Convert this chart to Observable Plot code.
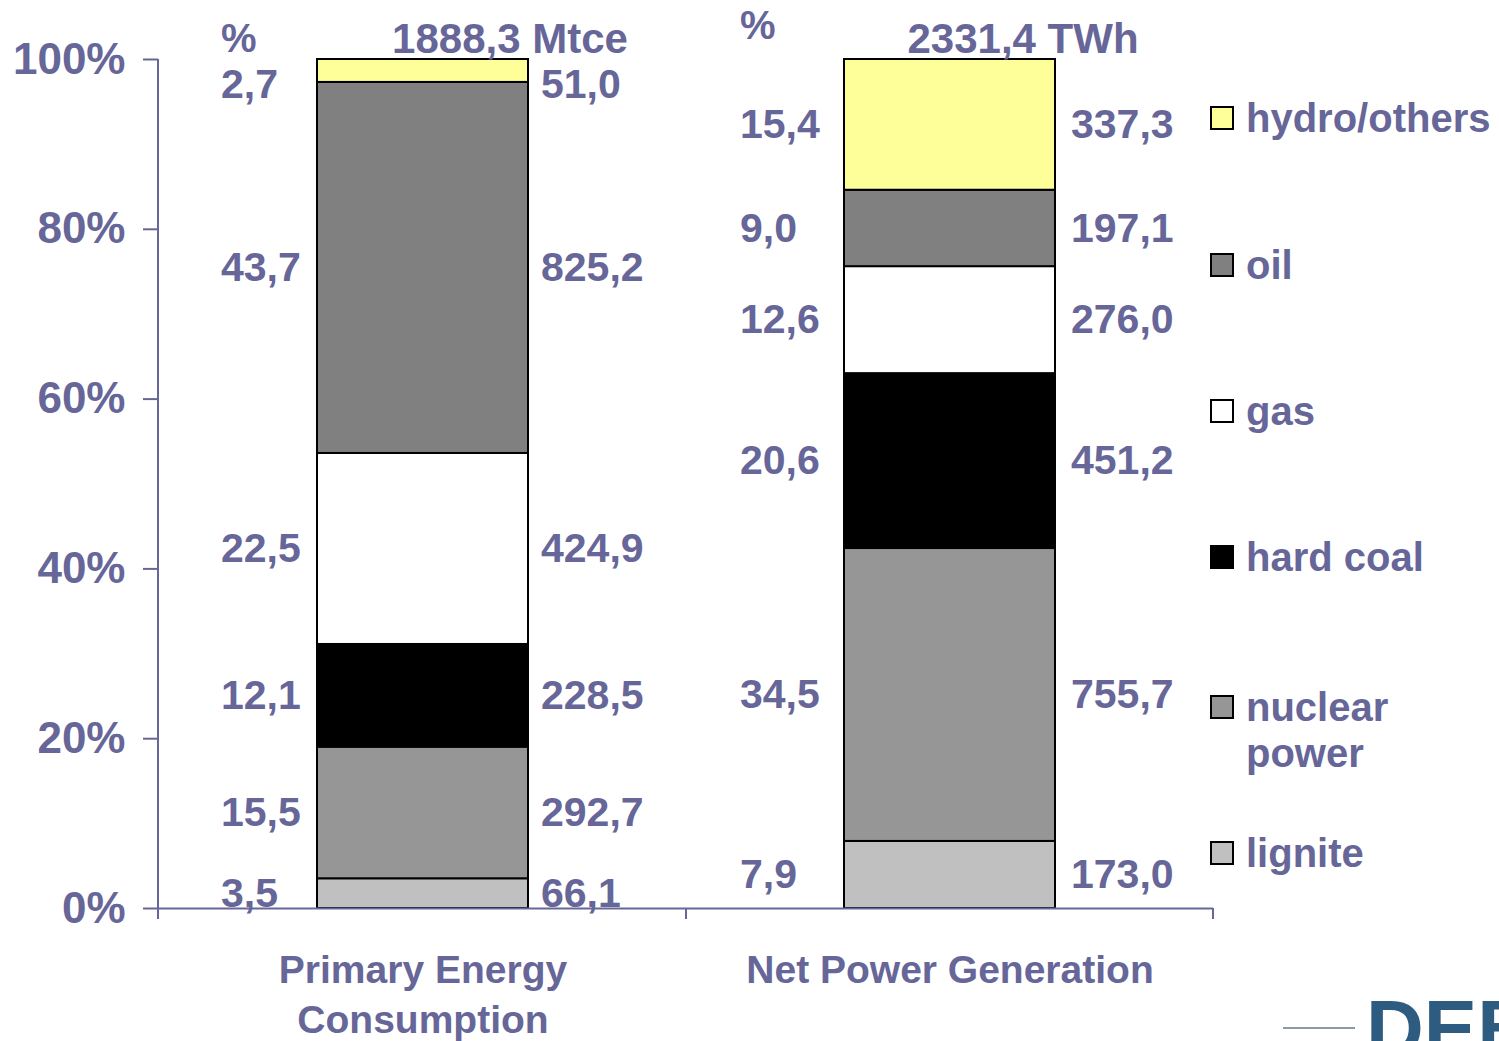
<!DOCTYPE html>
<html>
<head>
<meta charset="utf-8">
<script src="https://cdn.jsdelivr.net/npm/d3@7"></script>
<script src="https://cdn.jsdelivr.net/npm/@observablehq/plot@0.6"></script>
<style>
  html, body { margin: 0; padding: 0; background: #fff; }
  #chart { width: 1499px; height: 1041px; overflow: hidden; }
</style>
</head>
<body>
<div id="chart"></div>
<script>
// ---- data ----
const categories = ["Primary Energy Consumption", "Net Power Generation"];
const categoryLabels = ["Primary Energy\nConsumption", "Net Power Generation"];
const totals = ["1888,3 Mtce", "2331,4 TWh"];
const sources = ["lignite", "nuclear power", "hard coal", "gas", "oil", "hydro/others"];
const pctPrimary = [3.5, 15.5, 12.1, 22.5, 43.7, 2.7];
const valPrimary = [66.1, 292.7, 228.5, 424.9, 825.2, 51.0];
const pctPower = [7.9, 34.5, 20.6, 12.6, 9.0, 15.4];
const valPower = [173.0, 755.7, 451.2, 276.0, 197.1, 337.3];
const yTicks = [0, 20, 40, 60, 80, 100];
const legendOrder = ["hydro/others", "oil", "gas", "hard coal", "nuclear power", "lignite"];
const legendLabels = ["hydro/others", "oil", "gas", "hard coal", "nuclear\npower", "lignite"];
const sourceColors = ["#c0c0c0", "#969696", "#000000", "#ffffff", "#808080", "#ffff99"];

// ---- build rows ----
const fmt = v => d3.format(".1f")(v).replace(".", ",");
const labelTopLimit = 97.0; // keep labels clear of the headers
const rows = [];
[[pctPrimary, valPrimary], [pctPower, valPower]].forEach(([pcts, vals], ci) => {
  let cum = 0;
  pcts.forEach((p, i) => {
    rows.push({cat: categories[ci], source: sources[i], pct: p, val: vals[i],
      mid: Math.min(cum + p / 2, labelTopLimit)});
    cum += p;
  });
});

const textColor = "#666699";
const font = "'Liberation Sans', Arial, Helvetica, sans-serif";

// layout per bar (pixel offsets from bar centre)
const leftDx = [-202, -210];
const rightDx = [118, 121];
const pctDy = [-8, -21];
const totalDx = [87, 73];

const marks = [
  Plot.barY(rows, {x: "cat", y: "pct", fill: "source", stroke: "black", strokeWidth: 2}),
  Plot.ruleY([0], {stroke: textColor, strokeWidth: 2}),
  Plot.axisY({ticks: yTicks, tickFormat: d => d + "%", tickSize: 15, tickPadding: 18,
    stroke: textColor, strokeWidth: 2, fontSize: 44, fill: textColor}),
  Plot.text(categories, {x: d => d, y: () => 0, text: (d, i) => categoryLabels[i],
    lineAnchor: "top", dy: 39, fontSize: 39, lineHeight: 1.28, fill: textColor})
];

categories.forEach((c, ci) => {
  const sub = rows.filter(r => r.cat === c);
  marks.push(
    Plot.text(sub, {x: "cat", y: "mid", text: d => fmt(d.pct), textAnchor: "start",
      dx: leftDx[ci], fontSize: 41, fill: textColor}),
    Plot.text(sub, {x: "cat", y: "mid", text: d => fmt(d.val), textAnchor: "start",
      dx: rightDx[ci], fontSize: 41, fill: textColor}),
    Plot.text([c], {x: d => d, y: () => 100, text: () => "%", textAnchor: "start",
      lineAnchor: "bottom", dx: leftDx[ci], dy: pctDy[ci], fontSize: 40, fill: textColor}),
    Plot.text([c], {x: d => d, y: () => 100, text: () => totals[ci], textAnchor: "middle",
      lineAnchor: "bottom", dx: totalDx[ci], dy: -7, fontSize: 42, fill: textColor})
  );
});

const svg = Plot.plot({
  width: 1499,
  height: 1041,
  marginLeft: 158,
  marginRight: 286,
  marginTop: 59,
  marginBottom: 133,
  style: {fontFamily: font, fontWeight: "bold", background: "white", color: textColor, overflow: "hidden"},
  x: {domain: categories, paddingInner: 0.6, paddingOuter: 0.3, axis: null},
  y: {domain: [0, 100], axis: null},
  color: {domain: sources, range: sourceColors},
  marks
});

// ---- axis decorations ----
const s = d3.select(svg);
const xs = svg.scale("x");
const [x0, x1] = xs.range;
const yS = svg.scale("y");
const yBottom = yS.apply(0), yTop = yS.apply(100);
const xMid = (xs.apply(categories[0]) + xs.apply(categories[1]) + xs.bandwidth) / 2;
const g = s.append("g").attr("stroke", textColor).attr("stroke-width", 2);
g.append("line").attr("x1", x0).attr("x2", x0).attr("y1", yTop).attr("y2", yBottom);
[x0, xMid, x1].forEach(x => {
  g.append("line").attr("x1", x).attr("x2", x).attr("y1", yBottom).attr("y2", yBottom + 11);
});

// ---- legend ----
const color = svg.scale("color");
const lg = s.append("g").attr("font-family", font).attr("font-weight", "bold")
  .attr("font-size", 40).attr("fill", textColor).attr("text-anchor", "start");
const legendY = [118, 265, 411, 557, 707, 853];
legendOrder.forEach((src, i) => {
  const y = legendY[i];
  lg.append("rect").attr("x", 1211).attr("y", y - 11).attr("width", 22).attr("height", 22)
    .attr("fill", color.apply(src)).attr("stroke", "black").attr("stroke-width", 2);
  const t = lg.append("text").attr("x", 1246).attr("y", y);
  legendLabels[i].split("\n").forEach((line, k) => {
    t.append("tspan").attr("x", 1246).attr("dy", k === 0 ? "0.36em" : "1.15em").text(line);
  });
});

// ---- logo fragment (cut by the page edge, as in the reference) ----
s.append("line").attr("x1", 1283).attr("x2", 1355).attr("y1", 1028).attr("y2", 1028)
  .attr("stroke", "#8a9aa8").attr("stroke-width", 2);
s.append("text").attr("x", 1366).attr("y", 1056).attr("font-family", font)
  .attr("text-anchor", "start")
  .attr("font-weight", "bold").attr("font-size", 80).attr("fill", "#2e5c80").text("DEB");

document.getElementById("chart").appendChild(svg);
</script>
</body>
</html>
